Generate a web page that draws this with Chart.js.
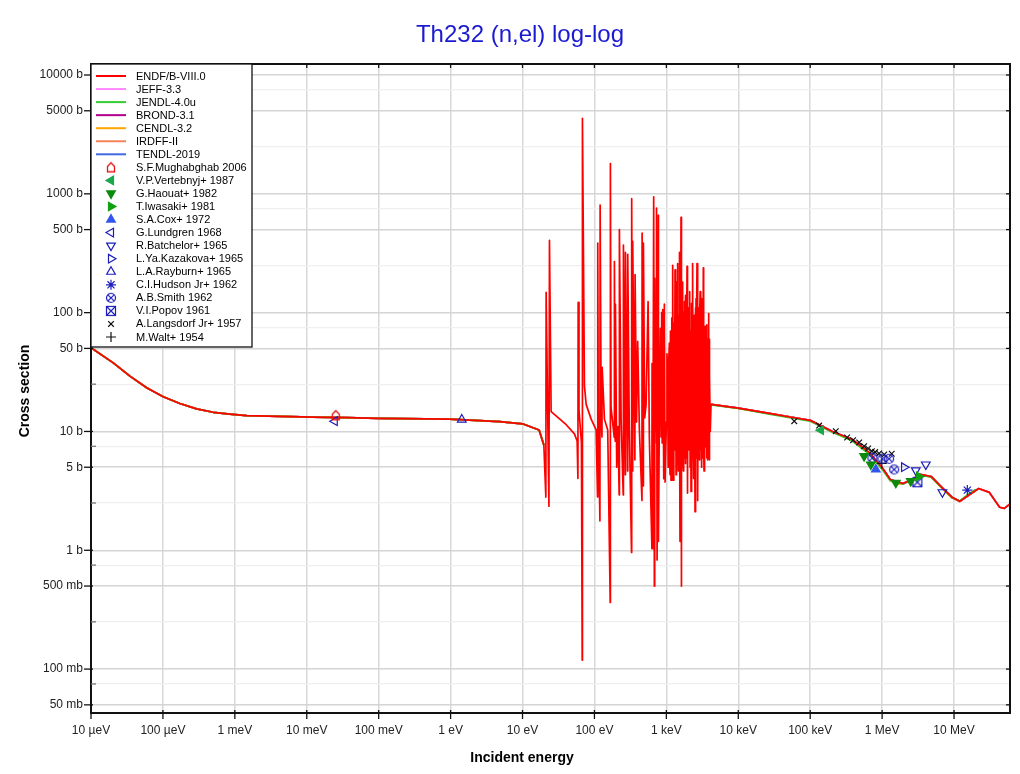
<!doctype html>
<html><head><meta charset="utf-8">
<title>Th232 (n,el) log-log</title>
<script src="https://cdn.jsdelivr.net/npm/chart.js@4"></script>
<style>
  html, body { margin: 0; padding: 0; background: #fff; }
  #wrap { position: relative; width: 1020px; height: 774px; }
</style>
</head><body>
<div id="wrap"><canvas id="xs" width="1020" height="774"></canvas></div>
<script>
// ---- axis ticks (energy in eV, cross section in barns) ----
const xTickValues = [1e-5, 1e-4, 1e-3, 1e-2, 1e-1, 1, 10, 100, 1e3, 1e4, 1e5, 1e6, 1e7];
const xTickLabels = ['10 µeV', '100 µeV', '1 meV', '10 meV', '100 meV', '1 eV', '10 eV', '100 eV', '1 keV', '10 keV', '100 keV', '1 MeV', '10 MeV'];
const yMajorValues = [0.05, 0.1, 0.5, 1, 5, 10, 50, 100, 500, 1000, 5000, 10000];
const yMajorLabels = ['50 mb', '100 mb', '500 mb', '1 b', '5 b', '10 b', '50 b', '100 b', '500 b', '1000 b', '5000 b', '10000 b'];
const yMinorValues = [0.075, 0.25, 0.75, 2.5, 7.5, 25, 75, 250, 750, 2500, 7500];

// ---- evaluated libraries: [energy eV, sigma b]; null = no line drawn ----
// thermal / epithermal part, all libraries lie on top of each other here
const thermalPart = [
  [1e-5, 50.6], [2.04e-5, 37.8], [3.48e-5, 29.2], [5.94e-5, 23.3], [1.01e-4, 19.6],
  [1.72e-4, 17.2], [2.94e-4, 15.5], [5.0e-4, 14.5], [8.5e-4, 14.0], [1.46e-3, 13.6],
  [4.2e-3, 13.4], [1.2e-2, 13.2], [3.6e-2, 13.1], [0.1, 12.9], [0.97, 12.7],
  [4.8, 12.1], [10, 11.6], [17, 10.3], [19.8, 7.7]
];
const endfResonances = [
  [21.1, 2.8], [21.3, 148], [23.3, 2.35], [23.7, 405], [25.0, 14.7], [40.5, 11.4],
  [52.7, 9.55], [57.5, 8.3], [58.9, 4.03], [59.4, 122], [61, 15], [66, 8.0], [67.6, 0.119], [68.1, 4325],
  [72.6, 24.3], [76.7, 16.9], [90, 12.7], [105.6, 10.3],
  [110.5, 2.81], [111.2, 385], [113, 14], [119.2, 1.77], [120, 805], [124, 14], [127.2, 9], [128, 34.7],
  [137.7, 12.7], [153, 10.3],
  [165.8, 0.364], [166.7, 1800], [170, 16], [179.5, 11.8], [188.6, 8.9], [189.6, 269], [194.6, 8.3],
  [195.8, 118], [204, 5.0], [212, 11], [220.8, 2.92], [222.4, 501], [235, 12.2], [251.5, 2.92], [252.9, 371],
  [268.5, 4.33], [269.8, 321], [288.8, 4.65], [290.4, 310], [305, 11], [328, 0.96], [329.6, 910],
  [338.5, 4.65], [340.4, 398], [365, 5.77], [367.4, 209], [385, 12], [399.3, 57.3], [421.7, 10.3],
  [458, 2.62], [460.1, 467], [477, 3.49], [479.6, 385], [500, 13], [522.4, 16.9], [557, 124], [580, 9],
  [630, 1.03], [632.5, 37.3], [645.7, 1.03], [666.8, 944], [681, 0.5], [688.7, 194], [705, 10],
  [719.5, 118], [728, 8], [733, 760], [743, 0.83], [774.5, 659], [776, 1.19], [800, 14], [826, 73.8],
  [845, 9], [861, 100], [875, 8], [889, 106], [920, 4], [938, 118], [960, 3.75],
  [1000, 12], [1020, 45], [1042, 28], [1060, 5], [1080, 40], [1101, 55.3], [1112, 6], [1125, 4.33],
  [1140, 70], [1161, 3.89], [1190, 90], [1205, 8], [1224, 250], [1251, 3.89], [1270, 50], [1280, 7],
  [1291, 82], [1305, 9], [1320, 229], [1340, 12], [1352, 60], [1364, 4.33], [1378, 30], [1390, 181],
  [1410, 6], [1425, 70], [1436, 259], [1450, 10], [1468, 4.65], [1490, 95], [1505, 7], [1516, 321],
  [1530, 15], [1549, 1.19], [1560, 80], [1575, 6], [1590, 40], [1600, 635], [1605, 0.5], [1620, 110],
  [1640, 60], [1655, 5], [1670, 50], [1683, 181], [1700, 8], [1722, 4.65], [1740, 100], [1760, 12],
  [1778, 124], [1800, 6], [1820, 75], [1836, 5.37], [1860, 140], [1880, 70], [1900, 6], [1920, 60],
  [1940, 245], [1960, 9], [1977, 3.03], [2000, 110], [2015, 7], [2030, 90], [2060, 8], [2085, 85],
  [2110, 150], [2140, 5], [2170, 70], [2203, 3.13], [2230, 60], [2260, 120], [2290, 6], [2317, 259],
  [2350, 10], [2370, 80], [2393, 4.03], [2420, 50], [2450, 95], [2480, 8], [2505, 2.11], [2540, 110],
  [2560, 9], [2587, 131], [2620, 6], [2645, 90], [2668, 259], [2700, 4], [2720, 40], [2754, 2.62],
  [2780, 70], [2812, 110], [2840, 8], [2871, 5.77], [2910, 100], [2950, 150], [3000, 7], [3034, 131],
  [3060, 10], [3090, 5.0], [3130, 90], [3160, 8], [3180, 60], [3220, 6], [3266, 238], [3300, 8],
  [3342, 4.65], [3370, 70], [3400, 50], [3430, 6], [3451, 76.5], [3500, 9], [3530, 70], [3556, 7.4],
  [3600, 40], [3631, 79], [3670, 6], [3700, 12], [3720, 60], [3750, 5.77], [3790, 8], [3820, 45],
  [3850, 6], [3873, 98.3], [3910, 7], [3930, 60], [3955, 5.77], [4000, 30], [4080, 10], [4178, 16.9]
];
const endfFast = [
  [1e4, 15.7], [2.7e4, 14.2], [5.7e4, 13.1], [1e5, 12.4], [1.3e5, 11.5], [2.05e5, 10.0], [3.8e5, 8.6],
  [6.6e5, 6.66], [1e6, 4.97], [1.3e6, 3.94], [1.95e6, 3.65], [2.6e6, 3.94], [3.4e6, 4.35], [4.8e6, 4.18],
  [6.6e6, 3.44], [9.5e6, 2.78], [1.2e7, 2.58], [1.65e7, 2.95], [2.2e7, 3.31], [3.1e7, 3.07], [4.3e7, 2.3],
  [5.0e7, 2.25], [6e7, 2.45]
];
const endf8 = [...thermalPart, ...endfResonances, ...endfFast];

const jeff33Fast = [
  [4.2e3, 16.8], [1e4, 15.8], [2.7e4, 14.1], [1e5, 12.4], [2e5, 10.1], [3.8e5, 8.6], [6.6e5, 6.6],
  [1e6, 4.95], [1.3e6, 3.95], [1.95e6, 3.62], [2.6e6, 3.92], [3.4e6, 4.33], [4.8e6, 4.15], [6.6e6, 3.42],
  [9.5e6, 2.77], [1.2e7, 2.56], [1.65e7, 2.93], [2e7, 3.2]
];
const jendl40uFast = [
  [4.2e3, 16.7], [1e4, 15.6], [2.7e4, 14.0], [1e5, 12.2], [2e5, 9.9], [3.8e5, 8.35], [6.6e5, 6.45],
  [1e6, 4.8], [1.3e6, 3.85], [1.95e6, 3.6], [2.6e6, 3.95], [3.4e6, 4.3], [4.8e6, 4.12], [6.6e6, 3.4],
  [9.5e6, 2.75], [1.2e7, 2.6], [1.65e7, 3.02], [2e7, 3.25]
];
const brond31Fast = [
  [4.2e3, 16.9], [1e4, 15.7], [2.7e4, 14.2], [1e5, 12.4], [2e5, 10.0], [3.8e5, 8.55], [6.6e5, 6.6],
  [1e6, 4.95], [1.3e6, 3.93], [1.95e6, 3.64], [2.6e6, 3.93], [3.4e6, 4.34], [4.8e6, 4.17], [6.6e6, 3.43],
  [9.5e6, 2.78], [1.2e7, 2.58], [1.65e7, 2.95], [2e7, 3.2]
];
const cendl32Fast = [
  [4.2e3, 16.8], [1e4, 15.6], [2.7e4, 14.1], [1e5, 12.3], [2e5, 9.95], [3.8e5, 8.45], [6.6e5, 6.5],
  [1e6, 4.85], [1.3e6, 3.86], [1.6e6, 3.6], [1.95e6, 3.63], [2.6e6, 3.9], [3.4e6, 4.32], [4.8e6, 4.15],
  [6.6e6, 3.38], [9.5e6, 2.74], [1.2e7, 2.6], [1.65e7, 2.97], [2e7, 3.15]
];
const irdff2Fast = [
  [4.2e3, 16.9], [1e4, 15.7], [2.7e4, 14.2], [1e5, 12.4], [2e5, 10.0], [3.8e5, 8.6], [6.6e5, 6.65],
  [1e6, 4.96], [1.3e6, 3.94], [1.95e6, 3.65], [2.6e6, 3.94], [3.4e6, 4.35], [4.8e6, 4.18], [6.6e6, 3.44],
  [9.5e6, 2.78], [1.2e7, 2.58], [1.65e7, 2.95], [2.2e7, 3.3], [3.1e7, 3.07], [4.3e7, 2.3], [5.0e7, 2.25], [6e7, 2.45]
];
const tendl2019Fast = [
  [4.2e3, 16.9], [1e4, 15.7], [2.7e4, 14.2], [1e5, 12.4], [2e5, 10.0], [3.8e5, 8.6], [6.6e5, 6.66],
  [1e6, 4.97], [1.3e6, 3.94], [1.95e6, 3.65], [2.6e6, 3.94], [3.4e6, 4.35], [4.8e6, 4.18], [6.6e6, 3.44],
  [9.5e6, 2.78], [1.2e7, 2.58], [1.65e7, 2.95], [2.2e7, 3.31], [3.1e7, 3.07], [4.3e7, 2.3], [5.0e7, 2.25], [6e7, 2.45]
];
// resonance region of the other libraries is hidden under ENDF: break the line there
const gap = [[20, null]];

// ---- experimental data (EXFOR): [energy eV, sigma b] ----
const mughabghab2006 = [[0.0253, 13.7]];
const vertebnyj1987 = [[1.41e5, 10.25]];
const haouat1982 = [[5.62e5, 6.2], [6.97e5, 5.27], [1.55e6, 3.70], [2.5e6, 3.82]];
const iwasaki1981 = [[3.26e6, 4.18]];
const cox1972 = [[8.17e5, 4.79]];
const lundgren1968 = [[0.0245, 12.2]];
const batchelor1965 = [[2.94e6, 4.7], [4.05e6, 5.27], [6.89e6, 3.08]];
const kazakova1965 = [[2.02e6, 5.0]];
const rayburn1965 = [[1.43, 12.6]];
const hudson1962 = [[1.53e7, 3.21]];
const smith1962 = [[7.33e5, 6.0], [1.01e6, 5.89], [1.25e6, 5.89], [1.47e6, 4.79]];
const popov1961 = [[3.09e6, 3.74]];
const langsdorf1957 = [
  [6.0e4, 12.2], [1.33e5, 11.2], [2.27e5, 10.06], [3.26e5, 8.9], [3.95e5, 8.45], [4.8e5, 8.08],
  [5.62e5, 7.52], [6.39e5, 7.19], [7.2e5, 6.83], [8.0e5, 6.70], [9.08e5, 6.53], [1.07e6, 6.40], [1.36e6, 6.49]
];
const walt1954 = [[9.9e5, 5.38]];

const toXY = arr => arr.map(p => ({ x: p[0], y: p[1] }));

// small canvases for marker shapes Chart.js does not have
function marker(draw) {
  const c = document.createElement('canvas');
  c.width = 12; c.height = 12;
  draw(c.getContext('2d'));
  return c;
}
const blue = '#1c1cbc';
const houseMark = marker(g => {
  g.strokeStyle = '#e81010'; g.lineWidth = 1.3;
  g.beginPath(); g.moveTo(2.5, 10.5); g.lineTo(2.5, 5); g.lineTo(6, 1.5); g.lineTo(9.5, 5); g.lineTo(9.5, 10.5);
  g.closePath(); g.stroke();
});
const circleXMark = marker(g => {
  g.strokeStyle = blue; g.lineWidth = 1.2;
  g.beginPath(); g.arc(6, 6, 4.5, 0, Math.PI * 2); g.stroke();
  g.beginPath(); g.moveTo(2.8, 2.8); g.lineTo(9.2, 9.2); g.moveTo(9.2, 2.8); g.lineTo(2.8, 9.2); g.stroke();
});
const boxXMark = marker(g => {
  g.strokeStyle = blue; g.lineWidth = 1.2;
  g.strokeRect(1.5, 1.5, 9, 9);
  g.beginPath(); g.moveTo(1.5, 1.5); g.lineTo(10.5, 10.5); g.moveTo(10.5, 1.5); g.lineTo(1.5, 10.5); g.stroke();
});

function lib(label, data, color, order) {
  return { label, data: toXY(data), showLine: true, borderColor: color, backgroundColor: color,
    borderWidth: 1.7, pointRadius: 0, spanGaps: false, borderJoinStyle: 'round', order };
}
function expt(label, data, style, stroke, fill, rotation = 0, radius = 4.5) {
  return { label, data: toXY(data), showLine: false, pointStyle: style, pointRotation: rotation,
    pointRadius: radius, pointBorderWidth: 1.2, pointBorderColor: stroke, pointBackgroundColor: fill, order: 0 };
}

const datasets = [
  lib('ENDF/B-VIII.0', endf8, '#ff0000', 1),
  lib('JEFF-3.3', [...thermalPart, ...gap, ...jeff33Fast], '#ff88ff', 7),
  lib('JENDL-4.0u', [...thermalPart, ...gap, ...jendl40uFast], '#33cc33', 2),
  lib('BROND-3.1', [...thermalPart, ...gap, ...brond31Fast], '#b0008c', 5),
  lib('CENDL-3.2', [...thermalPart, ...gap, ...cendl32Fast], '#ffa500', 3),
  lib('IRDFF-II', [...thermalPart, ...gap, ...irdff2Fast], '#f4845a', 4),
  lib('TENDL-2019', [...thermalPart, ...gap, ...tendl2019Fast], '#4169e1', 6),
  expt('S.F.Mughabghab 2006', mughabghab2006, houseMark, '#e81010', 'transparent'),
  expt('V.P.Vertebnyj+ 1987', vertebnyj1987, 'triangle', '#1aa84a', '#1aa84a', 270, 5),
  expt('G.Haouat+ 1982', haouat1982, 'triangle', '#0b8a0b', '#0b8a0b', 180, 5),
  expt('T.Iwasaki+ 1981', iwasaki1981, 'triangle', '#11a011', '#11a011', 90, 5),
  expt('S.A.Cox+ 1972', cox1972, 'triangle', '#3355ee', '#3355ee', 0, 5),
  expt('G.Lundgren 1968', lundgren1968, 'triangle', blue, 'transparent', 270, 5),
  expt('R.Batchelor+ 1965', batchelor1965, 'triangle', blue, 'transparent', 180, 5),
  expt('L.Ya.Kazakova+ 1965', kazakova1965, 'triangle', blue, 'transparent', 90, 5),
  expt('L.A.Rayburn+ 1965', rayburn1965, 'triangle', blue, 'transparent', 0, 5),
  expt('C.I.Hudson Jr+ 1962', hudson1962, 'star', blue, 'transparent', 0, 5),
  expt('A.B.Smith 1962', smith1962, circleXMark, blue, 'transparent'),
  expt('V.I.Popov 1961', popov1961, boxXMark, blue, 'transparent'),
  expt('A.Langsdorf Jr+ 1957', langsdorf1957, 'crossRot', '#111', '#111', 0, 4),
  expt('M.Walt+ 1954', walt1954, 'cross', '#111', '#111', 0, 5)
];

const FONT = '"Liberation Sans", Arial, Helvetica, sans-serif';

// frame, ticks, titles and the boxed legend
const decorations = {
  id: 'decorations',
  afterDraw(chart) {
    const { ctx, chartArea: a, scales: { x, y } } = chart;
    ctx.save();
    const seg = (x1, y1, x2, y2) => { ctx.beginPath(); ctx.moveTo(x1, y1); ctx.lineTo(x2, y2); ctx.stroke(); };

    ctx.strokeStyle = '#111'; ctx.lineWidth = 2;
    ctx.strokeRect(a.left, a.top, a.right - a.left, a.bottom - a.top);

    ctx.lineWidth = 1.3;
    yMajorValues.forEach(v => {
      const py = y.getPixelForValue(v);
      seg(a.left - 7, py, a.left + 2, py);
      seg(a.right - 4, py, a.right, py);
    });
    ctx.strokeStyle = '#777';
    yMinorValues.forEach(v => {
      const py = y.getPixelForValue(v);
      seg(a.left, py, a.left + 5, py);
    });
    ctx.strokeStyle = '#111';
    xTickValues.forEach(v => {
      const px = x.getPixelForValue(v);
      seg(px, a.bottom - 3, px, a.bottom + 6);
      seg(px, a.top, px, a.top + 4);
    });

    // titles
    ctx.fillStyle = '#1a1ad0';
    ctx.font = '24px ' + FONT;
    ctx.textAlign = 'center'; ctx.textBaseline = 'middle';
    ctx.fillText('Th232 (n,el) log-log', 520, 35);
    ctx.fillStyle = '#000';
    ctx.font = 'bold 14px ' + FONT;
    ctx.fillText('Incident energy', 522, 758);
    ctx.save();
    ctx.translate(25, 391); ctx.rotate(-Math.PI / 2);
    ctx.fillText('Cross section', 0, 0);
    ctx.restore();

    // legend box
    const lx = a.left, ly = a.top, lw = 161, lh = 283, row = 13.05;
    ctx.fillStyle = '#fff';
    ctx.fillRect(lx, ly, lw, lh);
    ctx.strokeStyle = '#111'; ctx.lineWidth = 1.3;
    ctx.strokeRect(lx, ly, lw, lh);
    ctx.font = '11px ' + FONT;
    ctx.textAlign = 'left'; ctx.textBaseline = 'middle';
    chart.data.datasets.forEach((ds, i) => {
      const cy = ly + 12 + i * row;
      if (ds.showLine) {
        ctx.strokeStyle = ds.borderColor; ctx.lineWidth = 2;
        seg(lx + 5, cy, lx + 35, cy);
      } else {
        ctx.strokeStyle = ds.pointBorderColor;
        ctx.fillStyle = ds.pointBackgroundColor;
        ctx.lineWidth = ds.pointBorderWidth;
        Chart.helpers.drawPoint(ctx, { pointStyle: ds.pointStyle, rotation: ds.pointRotation,
          radius: ds.pointRadius, borderWidth: ds.pointBorderWidth }, lx + 20, cy);
      }
      ctx.fillStyle = '#000';
      ctx.fillText(ds.label, lx + 45, cy + 0.5);
    });
    ctx.restore();
  }
};

new Chart(document.getElementById('xs'), {
  type: 'scatter',
  data: { datasets },
  options: {
    responsive: false,
    animation: false,
    devicePixelRatio: 1,
    events: [],
    layout: { padding: { top: 64, right: 10, left: 0, bottom: 0 } },
    plugins: { legend: { display: false }, tooltip: { enabled: false }, title: { display: false } },
    scales: {
      x: {
        type: 'logarithmic', min: 1e-5, max: 6e7,
        afterFit: s => { s.height = 61; },
        afterBuildTicks: s => { s.ticks = xTickValues.map(v => ({ value: v })); },
        border: { display: false },
        grid: { color: '#d8d8d8', lineWidth: 1.5, drawTicks: false },
        ticks: { autoSkip: false, maxRotation: 0, padding: 10, color: '#222', font: { family: FONT, size: 12 },
          callback: v => xTickLabels[xTickValues.indexOf(v)] ?? '' }
      },
      y: {
        type: 'logarithmic', min: 0.0427, max: 12380,
        afterFit: s => { s.width = 91; },
        afterBuildTicks: s => {
          s.ticks = [...yMajorValues, ...yMinorValues].sort((p, q) => p - q).map(v => ({ value: v }));
        },
        border: { display: false },
        grid: {
          drawTicks: false,
          color: c => yMinorValues.includes(c.tick.value) ? '#efefef' : '#d4d4d4',
          lineWidth: c => yMinorValues.includes(c.tick.value) ? 1.2 : 1.5
        },
        ticks: { autoSkip: false, padding: 8, color: '#222', font: { family: FONT, size: 12 },
          callback: v => yMajorLabels[yMajorValues.indexOf(v)] ?? '' }
      }
    }
  },
  plugins: [decorations]
});
</script>
</body></html>
